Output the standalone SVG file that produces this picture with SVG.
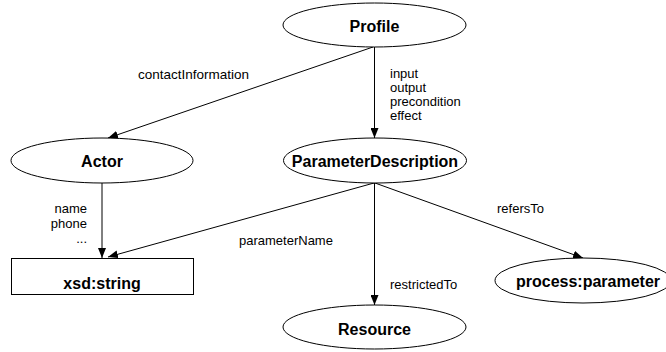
<svg xmlns="http://www.w3.org/2000/svg" width="666" height="352" viewBox="0 0 666 352">
<style>
.n{fill:#fff;stroke:#000;stroke-width:1}
.t{font-family:"Liberation Sans",Arial,sans-serif;font-weight:bold;font-size:16px;text-anchor:middle;fill:#000}
.l{font-family:"Liberation Sans",Arial,sans-serif;font-size:13.5px;fill:#000}
.s{font-family:"Liberation Sans",Arial,sans-serif;font-size:13px;fill:#000}
.e{fill:none;stroke:#000;stroke-width:1;marker-end:url(#a)}
</style>
<defs>
<marker id="a" viewBox="0 0 10 8" refX="10" refY="4" markerWidth="10" markerHeight="8" markerUnits="userSpaceOnUse" orient="auto">
<path d="M0,0 L10,4 L0,8 Z" fill="#000"/>
</marker>
</defs>
<rect width="666" height="352" fill="#fff"/>
<g id="connectors">
<line class="e" x1="373" y1="47" x2="108" y2="138"/>
<line class="e" x1="374.5" y1="47" x2="374.5" y2="138"/>
<line class="e" x1="102" y1="183" x2="102" y2="258"/>
<line class="e" x1="374" y1="183" x2="108" y2="257"/>
<line class="e" x1="374.5" y1="183" x2="374.5" y2="305"/>
<line class="e" x1="375" y1="183" x2="583" y2="258"/>
<text class="l" x="138" y="79">contactInformation</text>
<text class="s" x="390" y="78">input</text>
<text class="s" x="390" y="92">output</text>
<text class="s" x="390" y="106">precondition</text>
<text class="s" x="390" y="120">effect</text>
<text class="s" x="87" y="213" text-anchor="end">name</text>
<text class="s" x="87" y="228" text-anchor="end">phone</text>
<text class="s" x="87" y="243" text-anchor="end">...</text>
<text class="s" x="239" y="245">parameterName</text>
<text class="s" x="497" y="213">refersTo</text>
<text class="s" x="390" y="289">restrictedTo</text>
</g>
<g id="profile">
<ellipse class="n" cx="374.5" cy="25" rx="91.5" ry="22"/>
<text class="t" x="374.5" y="32">Profile</text>
</g>
<g id="actor">
<ellipse class="n" cx="102" cy="160.5" rx="91" ry="22.5"/>
<text class="t" x="102" y="167">Actor</text>
</g>
<g id="parameterDescription">
<ellipse class="n" cx="375" cy="160.5" rx="91.5" ry="22.5"/>
<text class="t" x="375" y="167">ParameterDescription</text>
</g>
<g id="xsdString">
<rect class="n" x="11.5" y="258.5" width="182" height="36"/>
<text class="t" x="102" y="289">xsd:string</text>
</g>
<g id="resource">
<ellipse class="n" cx="374.5" cy="327" rx="91.5" ry="22"/>
<text class="t" x="374.5" y="335">Resource</text>
</g>
<g id="processParameter">
<ellipse class="n" cx="583" cy="280.5" rx="88" ry="22.5"/>
<text class="t" x="588" y="287">process:parameter</text>
</g>
</svg>
